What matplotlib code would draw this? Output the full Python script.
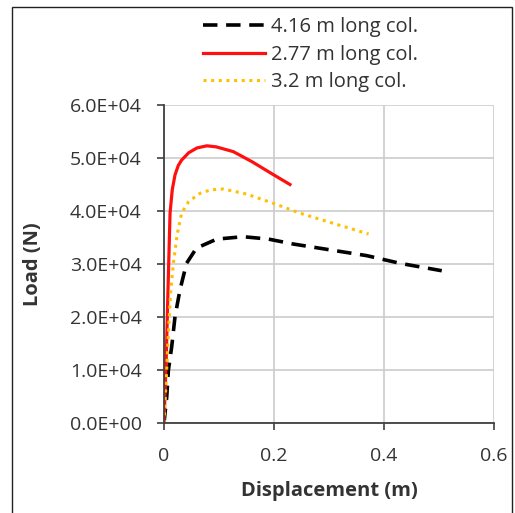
import matplotlib
matplotlib.use("Agg")
import matplotlib.pyplot as plt
from matplotlib.patches import Rectangle

plt.rcParams['font.family'] = ['Open Sans', 'DejaVu Sans']

# 4.16 m long column (black dashed)
x_416 = [0.0, 0.005, 0.008, 0.014, 0.020, 0.029, 0.041, 0.059, 0.096, 0.144, 0.190, 0.235, 0.300, 0.369, 0.429, 0.505]
y_416 = [0, 4960, 10000, 14400, 20060, 25100, 30130, 33000, 34700, 35150, 34700, 33770, 32700, 31570, 30130, 28730]

# 2.77 m long column (red solid)
x_277 = [0.0, 0.004, 0.008, 0.011, 0.015, 0.020, 0.026, 0.032, 0.045, 0.060, 0.078, 0.095, 0.126, 0.160, 0.195, 0.229]
y_277 = [0, 12000, 28000, 39600, 44000, 46800, 48600, 49600, 51000, 51900, 52300, 52100, 51200, 49300, 47100, 45000]

# 3.2 m long column (orange dotted)
x_32 = [0.0, 0.004, 0.008, 0.012, 0.017, 0.024, 0.032, 0.045, 0.065, 0.085, 0.108, 0.150, 0.199, 0.247, 0.310, 0.372]
y_32 = [0, 8000, 17000, 24500, 30100, 35600, 39600, 41800, 43300, 44000, 44150, 43200, 41450, 39600, 37600, 35660]

fig = plt.figure(figsize=(5.15, 5.13), dpi=100)
fig.patches.append(Rectangle((12 / 515, -0.01), 500 / 515, 1 - 7 / 513 + 0.01,
                             transform=fig.transFigure, fill=False,
                             edgecolor='#222222', linewidth=1.0))

ax = fig.add_axes([164 / 515, 1 - 423 / 513, 330 / 515, 318 / 513])

ax.plot(x_416, y_416, color='black', linestyle=(0, (4, 2.4)), linewidth=2.6,
        label='4.16 m long col.')
ax.plot(x_277, y_277, color='#ff1010', linewidth=2.3, label='2.77 m long col.')
ax.plot(x_32, y_32, color='#ffc000', linestyle=(0, (1, 1.5)), linewidth=2.2,
        label='3.2 m long col.')

ax.set_xlim(0, 0.6)
ax.set_ylim(0, 60000)
ax.set_xticks([0, 0.2, 0.4, 0.6])
ax.set_xticklabels(['0', '0.2', '0.4', '0.6'])
ax.set_yticks(range(0, 60001, 10000))
ax.set_yticklabels(['%.1fE+04' % (v / 10000) if v else '0.0E+00' for v in range(0, 60001, 10000)])

ax.grid(True, color='#cccccc', linewidth=1.2)
ax.set_axisbelow(True)
for s in ['top', 'right']:
    ax.spines[s].set_visible(False)
for s in ['left', 'bottom']:
    ax.spines[s].set_color('#404040')
    ax.spines[s].set_linewidth(1.3)
ax.tick_params(axis='both', direction='out', length=5, width=1.2,
               color='#404040', labelsize=14, labelcolor='#333333')
ax.tick_params(axis='y', pad=11)
ax.tick_params(axis='x', pad=12)

ax.set_xlabel('Displacement (m)', fontsize=14.5, fontweight='bold', color='#333333', labelpad=12)
ax.set_ylabel('Load (N)', fontsize=14.5, fontweight='bold', color='#333333', labelpad=19)

leg = fig.legend(loc='upper left', bbox_to_anchor=(195 / 515, 1 - 9 / 513),
                 frameon=False, fontsize=14.5, handlelength=3.1, handletextpad=0.25,
                 labelspacing=0.38, borderaxespad=0)
for t in leg.get_texts():
    t.set_color('#333333')

fig.savefig('out.png', dpi=100)
